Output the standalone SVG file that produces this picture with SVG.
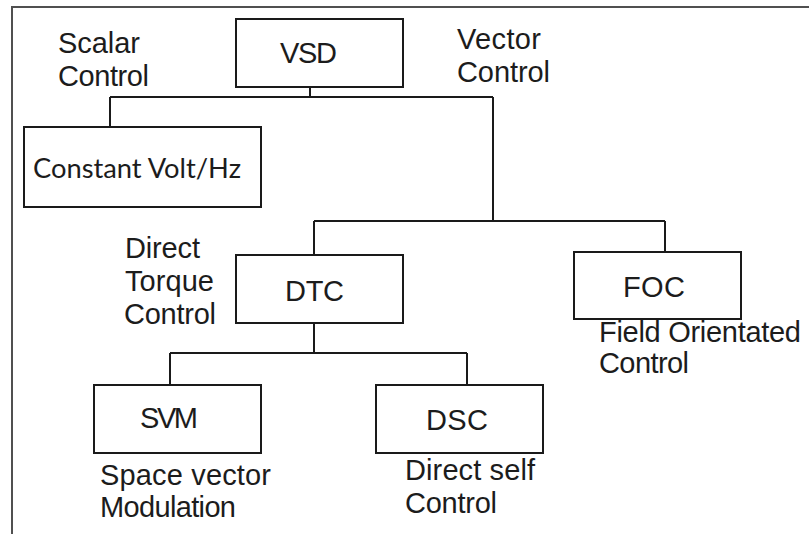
<svg xmlns="http://www.w3.org/2000/svg" width="809" height="534" viewBox="0 0 809 534">
<style>
.box{fill:#fff;stroke:#1a1a1a;stroke-width:2}
.ln{fill:none;stroke:#1a1a1a;stroke-width:2}
.t{font-family:"Liberation Sans",Arial,sans-serif;font-size:29px;fill:#1c1c1c}
.c{font-family:Lato,"Open Sans",sans-serif;font-size:26px;fill:#1c1c1c}
</style>
<rect width="809" height="534" fill="#fff"/>
<path d="M12 534V7H809" fill="none" stroke="#505050" stroke-width="2"/>
<g id="connectors">
<path class="ln" d="M310 87V97M110 97H493M110 97V127M493 97V221M314 221H665M314 221V255M665 221V252M314 323V353M170 353H467M170 353V385M467 353V385"/>
</g>
<g id="label-scalar">
<text class="t" x="58" y="53" textLength="82" lengthAdjust="spacing">Scalar</text>
<text class="t" x="58" y="86" textLength="91" lengthAdjust="spacing">Control</text>
</g>
<g id="label-vector">
<text class="t" x="457" y="49" textLength="84" lengthAdjust="spacing">Vector</text>
<text class="t" x="457" y="82" textLength="93" lengthAdjust="spacing">Control</text>
</g>
<g id="vsd">
<rect class="box" x="236" y="19" width="167" height="68"/>
<text class="t" x="280" y="63" textLength="57" lengthAdjust="spacing">VSD</text>
</g>
<g id="cvhz">
<rect class="box" x="24" y="127" width="237" height="80"/>
<text class="c" x="33" y="178" textLength="208" lengthAdjust="spacingAndGlyphs">Constant Volt/Hz</text>
</g>
<g id="dtc">
<rect class="box" x="236" y="255" width="167" height="68"/>
<text class="t" x="285" y="301" textLength="59" lengthAdjust="spacing">DTC</text>
<text class="t" x="125" y="258" textLength="75" lengthAdjust="spacing">Direct</text>
<text class="t" x="125" y="291" textLength="89" lengthAdjust="spacing">Torque</text>
<text class="t" x="124" y="324" textLength="92" lengthAdjust="spacing">Control</text>
</g>
<g id="foc">
<rect class="box" x="574" y="252" width="167" height="67"/>
<text class="t" x="623" y="297" textLength="62" lengthAdjust="spacing">FOC</text>
<text class="t" x="599" y="342" textLength="202" lengthAdjust="spacing">Field Orientated</text>
<text class="t" x="599" y="373" textLength="90" lengthAdjust="spacing">Control</text>
</g>
<g id="svm">
<rect class="box" x="94" y="385" width="167" height="68"/>
<text class="t" x="140" y="428" textLength="58" lengthAdjust="spacing">SVM</text>
<text class="t" x="100" y="485" textLength="171" lengthAdjust="spacing">Space vector</text>
<text class="t" x="100" y="517" textLength="136" lengthAdjust="spacing">Modulation</text>
</g>
<g id="dsc">
<rect class="box" x="376" y="385" width="167" height="68"/>
<text class="t" x="426" y="430" textLength="62" lengthAdjust="spacing">DSC</text>
<text class="t" x="405" y="480" textLength="130" lengthAdjust="spacing">Direct self</text>
<text class="t" x="405" y="513" textLength="92" lengthAdjust="spacing">Control</text>
</g>
</svg>
